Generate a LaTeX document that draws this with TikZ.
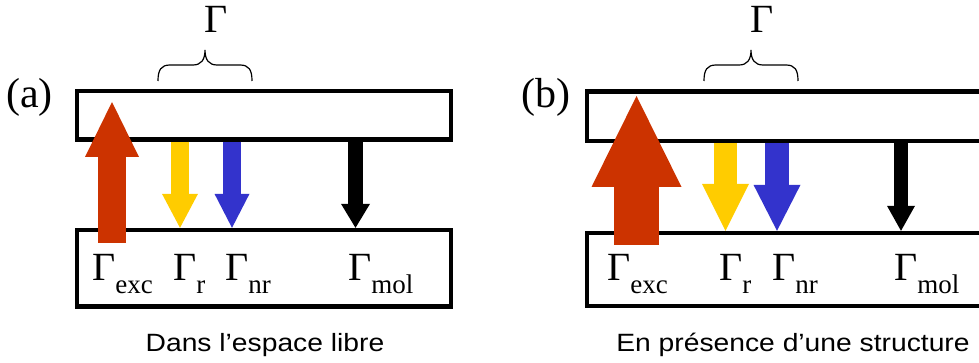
\documentclass[tikz,border=0pt]{standalone}
\usepackage{fontspec}
\setmainfont{Liberation Serif}
\newfontfamily\capfont[FakeStretch=1.13]{Liberation Sans}
\usepackage{tikz}
\usetikzlibrary{arrows.meta}
\definecolor{excred}{HTML}{CC3300}
\definecolor{radyellow}{HTML}{FFCC00}
\definecolor{nrblue}{HTML}{3333CC}
\newcommand{\gfont}{\fontsize{40}{40}\selectfont}
\newcommand{\subfont}{\fontsize{27}{27}\selectfont}
\newcommand{\ratelabel}[1]{Γ\raisebox{-13pt}{\subfont #1}}
\tikzstyle{energy} = [rectangle, draw=black, line width=4.3pt, inner sep=0pt]
\tikzstyle{rlabel} = [anchor=base west, inner sep=0pt, font=\gfont]
\tikzstyle{panel} = [anchor=base west, inner sep=0pt, font=\fontsize{42}{42}\selectfont]
\tikzstyle{captext} = [anchor=base, inner sep=0pt, font=\capfont\fontsize{25}{25}\selectfont]
\tikzset{rate/.style n args={4}{draw=#1, line width=#2, -{Triangle[width=#3, length=#4, line width=0pt, fill=#1]}}}

\begin{document}
\begin{tikzpicture}[x=1pt, y=-1pt]
    \useasboundingbox (0,0) rectangle (979,363);
    % (a) free space
    \node (topA) [energy, minimum width=374pt, minimum height=48.5pt] at (264,115.25) {};
    \node (lowA) [energy, minimum width=374pt, minimum height=76.5pt] at (264,268.25) {};
    \coordinate (excA0) at (112,243);
    \coordinate (excA1) at (112,102);
    \draw [rate={excred}{28pt}{54pt}{55pt}] (excA0) -- (excA1);
    \draw [rate={radyellow}{18pt}{36pt}{34pt}] (180,0 |- topA.south) -- (180,0 |- lowA.north);
    \draw [rate={nrblue}{18pt}{35pt}{34pt}] (232,0 |- topA.south) -- (232,0 |- lowA.north);
    \draw [rate={black}{15pt}{29pt}{24pt}] (355.5,0 |- topA.south) -- (355.5,0 |- lowA.north);
    \node (excA) [rlabel] at (92,280) {\ratelabel{exc}};
    \node (radA) [rlabel] at (173,280) {\ratelabel{r}};
    \node (nrA) [rlabel] at (225,280) {\ratelabel{nr}};
    \node (molA) [rlabel] at (348,280) {\ratelabel{mol}};
    \node (labA) [panel] at (6,108) {(a)};
    \node (capA) [captext] at (265,351) {Dans l’espace libre};

    % (b) near a structure
    \node (topB) [energy, minimum width=420pt, minimum height=49.5pt] at (797,116.25) {};
    \node (lowB) [energy, minimum width=420pt, minimum height=73pt] at (797,269.5) {};
    \coordinate (excB0) at (636.5,245);
    \coordinate (excB1) at (636.5,96);
    \draw [rate={excred}{45pt}{90pt}{91pt}] (excB0) -- (excB1);
    \draw [rate={radyellow}{23pt}{47pt}{47pt}] (725.5,0 |- topB.south) -- (725.5,0 |- lowB.north);
    \draw [rate={nrblue}{24pt}{47pt}{46pt}] (777,0 |- topB.south) -- (777,0 |- lowB.north);
    \draw [rate={black}{14pt}{28pt}{25pt}] (901,0 |- topB.south) -- (901,0 |- lowB.north);
    \node (excB) [rlabel] at (607,280) {\ratelabel{exc}};
    \node (radB) [rlabel] at (719,280) {\ratelabel{r}};
    \node (nrB) [rlabel] at (772,280) {\ratelabel{nr}};
    \node (molB) [rlabel] at (894,280) {\ratelabel{mol}};
    \node (labB) [panel] at (521,108) {(b)};
    \node (capB) [captext] at (793,351) {En présence d’une structure};

    % total rate braces
    \node (gamA) [anchor=base, inner sep=0pt, font=\gfont] at (216,33) {Γ};
    \node (gamB) [anchor=base, inner sep=0pt, font=\gfont] at (762,33) {Γ};
    \foreach \bx in {158,704}
        \draw [line width=1.2pt] (\bx,81) .. controls +(0,-11) and +(-9,0) .. ++(12,-16) -- ++(23,0)
            .. controls +(8,0) and +(0,10) .. ++(12,-15) .. controls +(0,10) and +(-8,0) .. ++(12,15)
            -- ++(23,0) .. controls +(9,0) and +(0,-11) .. ++(12,16);
\end{tikzpicture}
\end{document}
